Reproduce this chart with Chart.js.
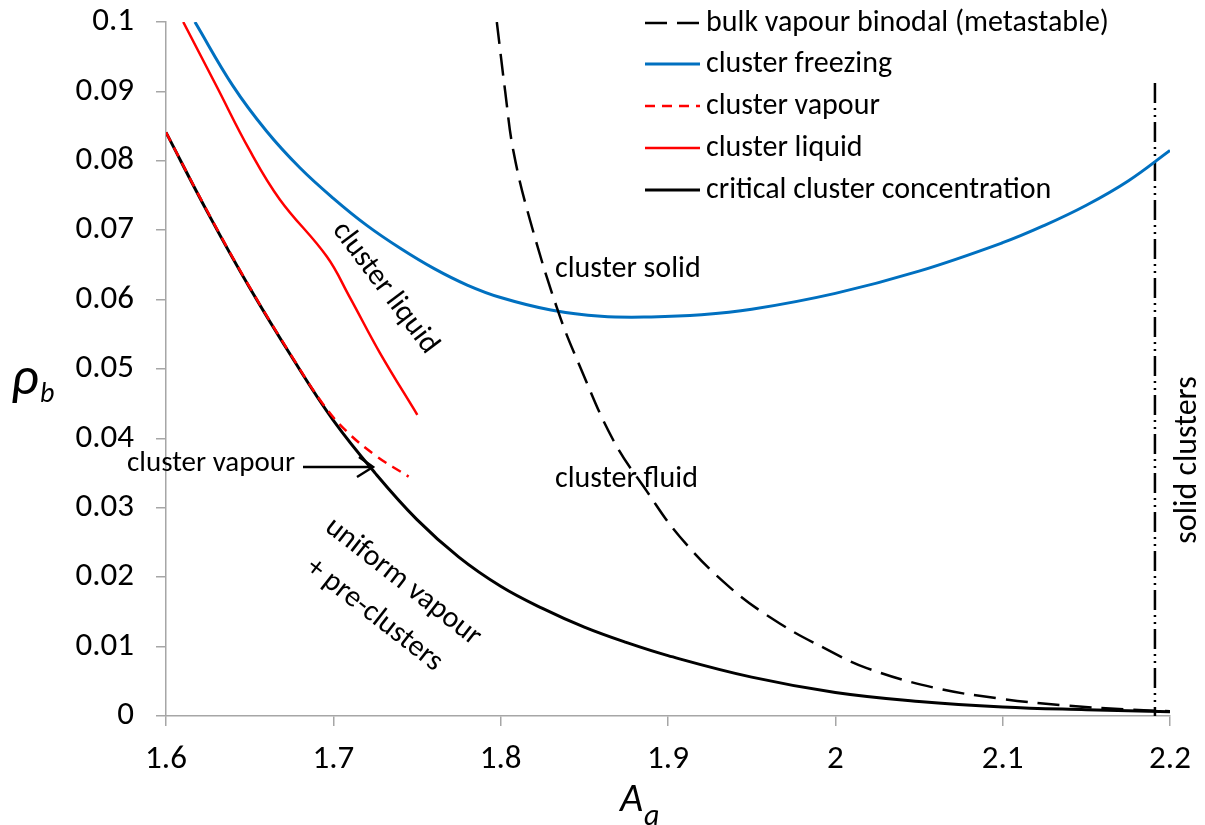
<!DOCTYPE html>
<html><head><meta charset="utf-8">
<script src="https://cdn.jsdelivr.net/npm/chart.js@4.4.1/dist/chart.umd.min.js"></script>
<style>html,body{margin:0;padding:0;background:#fff}canvas{display:block}</style>
</head><body>
<canvas id="c" width="1205" height="825"></canvas>
<script>
// ---- tick labels ----
const xTickValues = [1.6, 1.7, 1.8, 1.9, 2.0, 2.1, 2.2];
const xTickLabels = ['1.6', '1.7', '1.8', '1.9', '2', '2.1', '2.2'];
const yTickValues = [0, 0.01, 0.02, 0.03, 0.04, 0.05, 0.06, 0.07, 0.08, 0.09, 0.1];
const yTickLabels = ['0', '0.01', '0.02', '0.03', '0.04', '0.05', '0.06', '0.07', '0.08', '0.09', '0.1'];

// ---- series names ----
const seriesNames = ['bulk vapour binodal (metastable)', 'cluster freezing', 'cluster vapour', 'cluster liquid', 'critical cluster concentration'];

// ---- bulk vapour binodal (metastable) ----
const binodalX = [1.7977, 1.8027, 1.8076, 1.8176, 1.8345, 1.8475, 1.8674, 1.8873, 1.9072, 1.9371, 1.9670, 1.9949, 2.0188, 2.0587, 2.0985, 2.1384, 2.1782, 2.2];
const binodalY = [0.1000, 0.0900, 0.0814, 0.0714, 0.0582, 0.0503, 0.0397, 0.0324, 0.0258, 0.0185, 0.0133, 0.0096, 0.0069, 0.0041, 0.0025, 0.0015, 0.0009, 0.0007];

// ---- cluster freezing ----
const freezeX = [1.6173, 1.64, 1.66, 1.68, 1.70, 1.72, 1.74, 1.76, 1.78, 1.80, 1.83, 1.86, 1.89, 1.92, 1.95, 2.00, 2.05, 2.10, 2.125, 2.15, 2.175, 2.20];
const freezeY = [0.1000, 0.0908, 0.0843, 0.0790, 0.0746, 0.0707, 0.0674, 0.0645, 0.0621, 0.0603, 0.0585, 0.0576, 0.0575, 0.0578, 0.0586, 0.0609, 0.0641, 0.0682, 0.0707, 0.0736, 0.0771, 0.0815];

// ---- cluster vapour ----
const vapourX = [1.600, 1.625, 1.650, 1.675, 1.694, 1.708, 1.726, 1.745];
const vapourY = [0.0841, 0.0726, 0.0618, 0.0519, 0.0449, 0.0410, 0.0374, 0.0345];

// ---- cluster liquid ----
const liquidX = [1.6103, 1.6303, 1.6498, 1.6681, 1.6961, 1.7097, 1.7279, 1.7502];
const liquidY = [0.1000, 0.0907, 0.0816, 0.0744, 0.0662, 0.0604, 0.0523, 0.0434];

// ---- critical cluster concentration ----
const criticalX = [1.600, 1.625, 1.650, 1.675, 1.700, 1.725, 1.750, 1.775, 1.800, 1.825, 1.850, 1.875, 1.900, 1.950, 2.000, 2.050, 2.100, 2.150, 2.200];
const criticalY = [0.0841, 0.0725, 0.0617, 0.0518, 0.0426, 0.0350, 0.0283, 0.0229, 0.0187, 0.0155, 0.0128, 0.0106, 0.0087, 0.0056, 0.0034, 0.0021, 0.0013, 0.0009, 0.0006];

// ---- solid clusters boundary (vertical dash-dot) ----
const solidX = [2.191, 2.191];
const solidY = [0.0912, 0];

function pts(xs, ys) { return xs.map((x, i) => ({ x: x, y: ys[i] })); }
const FONT = "Carlito, 'Open Sans', sans-serif";

const datasets = [
  { label: seriesNames[0], data: pts(binodalX, binodalY), borderColor: '#000', borderWidth: 2.5, borderDash: [22, 10] },
  { label: seriesNames[1], data: pts(freezeX, freezeY), borderColor: '#0070C0', borderWidth: 3 },
  { label: seriesNames[2], data: pts(vapourX, vapourY), borderColor: '#FF0000', borderWidth: 2.5, borderDash: [10, 7] },
  { label: seriesNames[3], data: pts(liquidX, liquidY), borderColor: '#FF0000', borderWidth: 2.5 },
  { label: seriesNames[4], data: pts(criticalX, criticalY), borderColor: '#000', borderWidth: 3 },
  { label: 'solid clusters', data: pts(solidX, solidY), borderColor: '#000', borderWidth: 2.5, borderDash: [20, 5, 2, 5, 2, 5], tension: 0 }
].map(d => Object.assign({ showLine: true, pointRadius: 0, pointHoverRadius: 0, fill: false, tension: 0.4 }, d));

const annot = {
  id: 'annot',
  afterDraw(chart) {
    const ctx = chart.ctx;
    ctx.save();
    ctx.fillStyle = '#000';
    ctx.strokeStyle = '#000';
    ctx.font = '30px ' + FONT;
    ctx.textBaseline = 'middle';
    ctx.textAlign = 'left';
    ctx.fillText('cluster solid', 555, 269);
    ctx.fillText('cluster fluid', 555, 479);
    ctx.font = '29px ' + FONT;
    ctx.fillText('cluster vapour', 127, 464);
    ctx.font = '30px ' + FONT;
    // arrow
    ctx.lineWidth = 2.5;
    ctx.setLineDash([]);
    ctx.beginPath();
    ctx.moveTo(303, 467); ctx.lineTo(373, 467);
    ctx.moveTo(359, 457); ctx.lineTo(373, 467); ctx.lineTo(357, 477);
    ctx.stroke();
    // rotated labels
    const rot = (t, cx, cy, ang) => {
      ctx.save(); ctx.translate(cx, cy); ctx.rotate(ang * Math.PI / 180);
      ctx.textAlign = 'center'; ctx.fillText(t, 0, 0); ctx.restore();
    };
    rot('cluster liquid', 385, 288, 53);
    rot('uniform vapour', 403, 582, 38);
    rot('+ pre-clusters', 374, 615, 38);
    ctx.font = '32px ' + FONT;
    rot('solid clusters', 1188, 460, -90);
    ctx.font = '30px ' + FONT;
    // legend
    const rows = [23, 64, 106, 148, 190];
    for (let i = 0; i < 5; i++) {
      const d = chart.data.datasets[i];
      ctx.save();
      ctx.strokeStyle = d.borderColor;
      ctx.lineWidth = d.borderWidth;
      ctx.setLineDash(d.borderDash || []);
      ctx.beginPath(); ctx.moveTo(645, rows[i]); ctx.lineTo(700, rows[i]); ctx.stroke();
      ctx.restore();
      ctx.textAlign = 'left';
      ctx.fillText(d.label, 706, rows[i]);
    }
    // axis titles
    ctx.textBaseline = 'alphabetic';
    ctx.font = 'italic 54px ' + FONT;
    ctx.fillText('\u03C1', 11, 394);
    ctx.font = 'italic 28px ' + FONT;
    ctx.fillText('b', 40, 402);
    ctx.font = 'italic 40px ' + FONT;
    ctx.fillText('A', 620, 811);
    ctx.font = 'italic 30px ' + FONT;
    ctx.fillText('a', 644, 825);
    ctx.restore();
  }
};

new Chart(document.getElementById('c'), {
  type: 'scatter',
  data: { datasets: datasets },
  options: {
    responsive: false,
    animation: false,
    devicePixelRatio: 1,
    layout: { padding: { left: 0, right: 35, top: 22, bottom: 0 } },
    plugins: { legend: { display: false }, tooltip: { enabled: false } },
    scales: {
      x: {
        type: 'linear', min: 1.6, max: 2.2,
        afterBuildTicks: s => { s.ticks = xTickValues.map(v => ({ value: v })); },
        afterFit: s => { s.height = 109; s.paddingLeft = 0; s.paddingRight = 0; },
        ticks: { callback: (v, i) => xTickLabels[i], font: { family: FONT, size: 33 }, color: '#000', padding: 14, maxRotation: 0, autoSkip: false },
        grid: { drawOnChartArea: false, drawTicks: true, tickLength: 10, color: '#a6a6a6', lineWidth: 1.5 },
        border: { color: '#a6a6a6', width: 1.5 }
      },
      y: {
        type: 'linear', min: 0, max: 0.1,
        afterBuildTicks: s => { s.ticks = yTickValues.map(v => ({ value: v })); },
        afterFit: s => { s.width = 166; s.paddingTop = 0; s.paddingBottom = 0; },
        ticks: { callback: (v, i) => yTickLabels[i], font: { family: FONT, size: 33 }, color: '#000', padding: 22, autoSkip: false },
        grid: { drawOnChartArea: false, drawTicks: true, tickLength: 10, color: '#a6a6a6', lineWidth: 1.5 },
        border: { color: '#a6a6a6', width: 1.5 }
      }
    }
  },
  plugins: [annot]
});
</script>
</body></html>
